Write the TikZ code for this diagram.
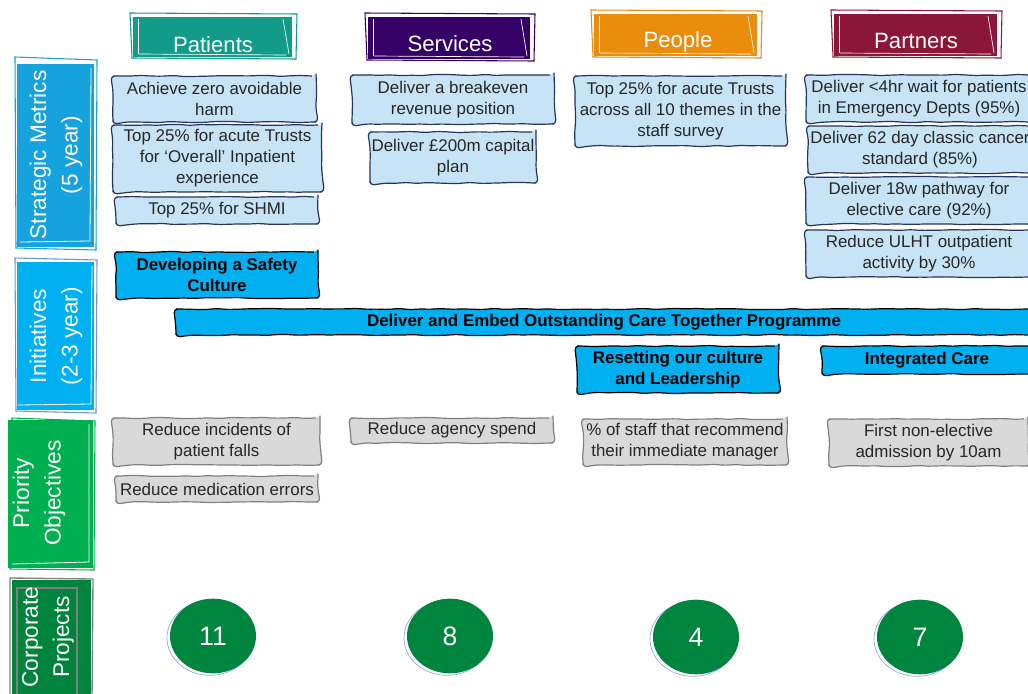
\documentclass[tikz,border=0pt]{standalone}
\usepackage{fontspec}
\setmainfont{Liberation Sans}
\usetikzlibrary{decorations.pathmorphing,shapes.geometric}
\definecolor{cTeal}{RGB}{18,155,137}
\definecolor{cPurple}{RGB}{52,0,104}
\definecolor{cOrange}{RGB}{234,140,12}
\definecolor{cMaroon}{RGB}{140,22,58}
\definecolor{cSM}{RGB}{22,162,220}
\definecolor{cIN}{RGB}{0,176,240}
\definecolor{cINb}{RGB}{110,150,210}
\definecolor{cPO}{RGB}{0,176,80}
\definecolor{cCP}{RGB}{0,132,61}
\definecolor{cMetric}{RGB}{198,228,245}
\definecolor{cNavy}{RGB}{38,52,95}
\definecolor{cGrey}{RGB}{217,217,217}
\definecolor{cGreyB}{RGB}{128,128,128}
\definecolor{cCirc}{RGB}{0,133,62}
\definecolor{cCircB}{RGB}{143,170,220}
% box: style, name, x1, y1, x2, y2, text   (pixel coordinates)
\newcommand\bx[7]{%
  \node[#1,minimum width={(#5-#3)*0.75pt},minimum height={(#6-#4)*0.75pt}] (#2) at ({(#3+#5)/2},{(#4+#6)/2}) {#7};}
\newcommand\mytab[6]{%
  \bx{inner sep=0pt,fill=#6}{#1}{#2}{#3}{#4}{#5}{}
  \draw[#6,line width=0.8pt] (#2-3,#3-4) -- (#4+5,#3-3) -- (#4+4,#5+2) -- (#2-1,#5+1) -- cycle;
  \draw[white,line width=0.5pt] (#2+5,#3+2) -- (#2+5,#5-3);
  \draw[white,line width=0.5pt] (#4-9,#3+2) -- (#4-3,#5-3);
  \draw[white,line width=0.5pt] (#2+6,#5-3) -- (#4-6,#5-2);
}
\begin{document}
\begin{tikzpicture}[x=0.75pt,y=-0.75pt,
 sketch/.style={decorate,decoration={random steps,segment length=8pt,amplitude=0.5pt},rounded corners=3pt},
 metric/.style={sketch,draw=cNavy,fill=cMetric,line width=0.9pt,inner sep=0pt,align=center,font=\fontsize{12.7}{15.75}\selectfont,text=black!85},
 init/.style={sketch,draw=black,fill=cIN,line width=0.9pt,inner sep=0pt,align=center,font=\bfseries\fontsize{12.7}{15.75}\selectfont},
 prio/.style={sketch,draw=cGreyB,fill=cGrey,line width=0.9pt,inner sep=0pt,align=center,font=\fontsize{12.7}{15.75}\selectfont,text=black!85},
 tabtext/.style={text=white,font=\fontsize{16.6}{19}\selectfont},
 sidetext/.style={text=white,rotate=90,align=center,font=\fontsize{17}{23.5}\selectfont},
 circ/.style={ellipse,fill=cCirc,minimum width=64.5pt,minimum height=56pt,inner sep=0pt,text=white,font=\fontsize{20}{24}\selectfont},
 circshadow/.style={ellipse,draw=cCircB,line width=0.5pt,minimum width=64.5pt,minimum height=56pt,inner sep=0pt}
]
\useasboundingbox (0,0) rectangle (1028,693);
\fill[white] (0,0) rectangle (1028,693);

% ---- header tabs
\mytab{tPat}{133}{17}{292}{57}{cTeal}
\node[tabtext] (tPatT) at (213,45) {Patients};
\mytab{tSer}{368}{17}{530}{59}{cPurple}
\node[tabtext] (tSerT) at (450,44) {Services};
\mytab{tPeo}{594}{14}{757}{56}{cOrange}
\node[tabtext] (tPeoT) at (678,42) {People};
\mytab{tPar}{834}{14}{997}{56}{cMaroon}
\node[tabtext] (tParT) at (916,41) {Partners};

% ---- side labels
\bx{inner sep=0pt,fill=cSM}{sm}{17}{64}{94}{247}{}
\draw[cSM,line width=0.8pt] (15,57) -- (97,60) -- (96,250) -- (16,248) -- cycle;
\draw[white,line width=0.6pt] (91,68) -- (90,241) -- (20,242);
\node[sidetext] (smT) at (56,155) {Strategic Metrics\\(5 year)};

\bx{inner sep=0pt,fill=cIN}{in}{17}{262}{94}{410}{}
\draw[cINb,line width=0.8pt] (15,258) -- (97,260) -- (96,413) -- (16,411) -- cycle;
\draw[white,line width=0.6pt] (92,266) -- (91,404) -- (18,405);
\node[sidetext] (inT) at (56,336) {Initiatives\\(2-3 year)};

\bx{inner sep=0pt,fill=cPO}{po}{8}{420}{93}{568}{}
\draw[cPO,line width=0.8pt] (12,418) -- (95,421) -- (94,570) -- (10,569) -- cycle;
\draw[white,line width=0.6pt] (89,424) -- (89,562) -- (12,564);
\node[sidetext] (poT) at (39,493) {Priority\\Objectives};

\bx{inner sep=0pt,fill=cCP}{cp}{12}{580}{91}{700}{}
\draw[cGreyB,line width=1pt] (10,578) -- (93,579) -- (92,700) -- (10,700) -- cycle;
\draw[cGreyB,line width=0.8pt] (17,700) -- (17,588) -- (77,588) -- (77,700);
\node[sidetext] (cpT) at (48,637) {Corporate\\Projects};

% ---- strategic metrics
\bx{metric}{m1}{113}{76}{316}{122}{Achieve zero avoidable\\harm}
\bx{metric}{m2}{113}{125}{322}{192}{Top 25\% for acute Trusts\\for ‘Overall’ Inpatient\\experience}
\bx{metric}{m3}{116}{197}{318}{224}{Top 25\% for SHMI}
\bx{metric}{m4}{352}{75}{554}{124}{Deliver a breakeven\\revenue position}
\bx{metric}{m5}{370}{132}{536}{183}{Deliver £200m capital\\plan}
\bx{metric}{m6}{575}{76}{786}{146}{Top 25\% for acute Trusts\\across all 10 themes in the\\staff survey}
\bx{metric}{m7}{806}{75}{1032}{122}{Deliver <4hr wait for patients\\in Emergency Depts (95\%)}
\bx{metric}{m8}{808}{126}{1032}{173}{Deliver 62 day classic cancer\\standard (85\%)}
\bx{metric}{m9}{806}{177}{1032}{224}{Deliver 18w pathway for\\elective care (92\%)}
\bx{metric}{m10}{806}{230}{1032}{277}{Reduce ULHT outpatient\\activity by 30\%}

% ---- initiatives
\bx{init}{i1}{116}{252}{318}{298}{Developing a Safety\\Culture}
\bx{init}{i2}{176}{309}{1032}{335}{Deliver and Embed Outstanding Care Together Programme}
\bx{init}{i3}{577}{346}{779}{393}{Resetting our culture\\and Leadership}
\bx{init}{i4}{822}{346}{1032}{374}{Integrated Care}

% ---- priority objectives
\bx{prio}{p1}{113}{418}{320}{465}{Reduce incidents of\\patient falls}
\bx{prio}{p2}{116}{476}{318}{502}{Reduce medication errors}
\bx{prio}{p3}{351}{418}{553}{443}{Reduce agency spend}
\bx{prio}{p4}{583}{419}{787}{465}{\% of staff that recommend\\their immediate manager}
\bx{prio}{p5}{829}{419}{1028}{466}{First non-elective\\admission by 10am}

% ---- corporate projects
\node[circshadow] (c1s) at (210,638) {};
\node[circ] (c1) at (213,636) {11};
\node[circshadow] (c2s) at (447,638) {};
\node[circ] (c2) at (450,636) {8};
\node[circshadow] (c3s) at (693,639) {};
\node[circ] (c3) at (696,637) {4};
\node[circshadow] (c4s) at (917,639) {};
\node[circ] (c4) at (920,637) {7};
\end{tikzpicture}
\end{document}
